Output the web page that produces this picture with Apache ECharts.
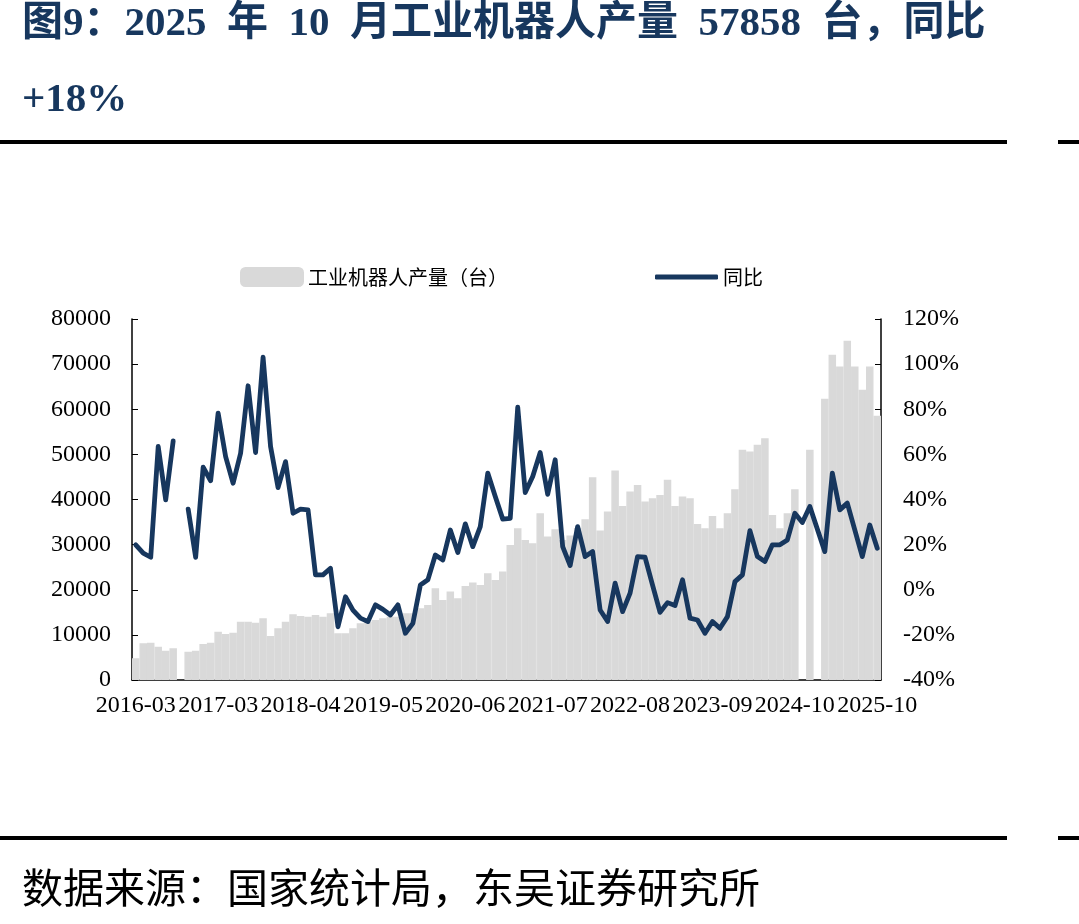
<!DOCTYPE html>
<html>
<head>
<meta charset="utf-8">
<script src="https://cdn.jsdelivr.net/npm/echarts@6/dist/echarts.min.js"></script>
<style>
  html, body { margin: 0; padding: 0; background: #fff; }
  #chart { width: 1079px; height: 924px; }
</style>
</head>
<body>
<div id="chart"></div>
<script>
// months as they appear in the source sheet (Jan/Feb mostly merged away)
const months = [
  '2016-03', '2016-04', '2016-05', '2016-06', '2016-07', '2016-08', '2016-09', '2016-10', '2016-11', '2016-12',
  '2017-02', '2017-03', '2017-04', '2017-05', '2017-06', '2017-07', '2017-08', '2017-09', '2017-10', '2017-11', '2017-12',
  '2018-03', '2018-04', '2018-05', '2018-06', '2018-07', '2018-08', '2018-09', '2018-10', '2018-11', '2018-12',
  '2019-03', '2019-04', '2019-05', '2019-06', '2019-07', '2019-08', '2019-09', '2019-10', '2019-11', '2019-12',
  '2020-03', '2020-04', '2020-05', '2020-06', '2020-07', '2020-08', '2020-09', '2020-10', '2020-11', '2020-12',
  '2021-03', '2021-04', '2021-05', '2021-06', '2021-07', '2021-08', '2021-09', '2021-10', '2021-11', '2021-12',
  '2022-03', '2022-04', '2022-05', '2022-06', '2022-07', '2022-08', '2022-09', '2022-10', '2022-11', '2022-12',
  '2023-03', '2023-04', '2023-05', '2023-06', '2023-07', '2023-08', '2023-09', '2023-10', '2023-11', '2023-12',
  '2024-03', '2024-04', '2024-05', '2024-06', '2024-07', '2024-08', '2024-09', '2024-10', '2024-11', '2024-12',
  '2025-02', '2025-03', '2025-04', '2025-05', '2025-06', '2025-07', '2025-08', '2025-09', '2025-10'
];

// 工业机器人产量（台）
const output = [
  4800, 8140, 8270, 7390, 6500, 7020, null, 6280, 6500, 7980,
  8270, 10710, 10200, 10490, 12930, 12930, 12710, 13670, 9760, 11460, 12930,
  14560, 14190, 14040, 14410, 14000, 14800, 10350, 10350, 11460, 12570,
  12930, 13300, 13670, 14040, 14040, 14780, 14780, 15890, 16630, 20330,
  17740, 19590, 18110, 20840, 21580, 21060, 23650, 22170, 24020, 29930,
  33630, 31040, 30300, 36960, 31780, 33400, 31000, 32000, 33700, 35630,
  44940, 33110, 37320, 46410, 38580, 41760, 43240, 39540, 40280, 41020,
  44350, 38580, 40650, 40280, 34590, 33630, 36360, 33630, 36960, 42280,
  51000, 50620, 52110, 53590, 36590, 33630, 36960, 42280, null, 51000,
  null, 62310, 72060, 69470, 75170, 69470, 64300, 69470, 58540
];

// 同比 (%)
const yoy = [
  19.9, 16.2, 14.4, 63.5, 39.8, 66.0, null, 35.7, 14.4, 54.3,
  48.3, 78.3, 59.0, 47.2, 60.5, 90.4, 60.8, 103.1, 63.5, 45.3, 56.8,
  33.9, 35.7, 35.4, 6.6, 6.6, 9.5, -16.4, -3.1, -9.0, -12.6,
  -14.1, -6.7, -8.7, -11.2, -6.7, -19.3, -14.9, 2.1, 4.4, 15.4,
  13.2, 26.5, 16.5, 29.2, 19.1, 28.0, 51.7, 41.3, 31.3, 31.6,
  80.9, 43.1, 50.2, 60.8, 42.3, 57.6, 19.1, 10.7, 28.0, 14.7,
  16.9, -9.0, -14.1, 2.9, -9.7, -1.5, 14.7, 14.4, 2.1, -10.0,
  -5.7, -7.0, 4.4, -12.6, -13.4, -19.3, -14.1, -17.1, -11.9, 3.6,
  6.6, 26.2, 14.7, 12.5, 19.9, 19.9, 22.1, 33.9, 29.8, 36.9,
  null, 16.9, 51.7, 35.4, 38.4, 26.5, 14.7, 28.7, 18.4
];

// months the yoy line is drawn straight across
const lineSkip = ['2025-02'];

const leftTicks = [0, 10000, 20000, 30000, 40000, 50000, 60000, 70000, 80000];
const rightTicks = [-40, -20, 0, 20, 40, 60, 80, 100, 120];

const navy = '#17375e';
const grey = '#d9d9d9';
const serif = '"Liberation Serif", "Times New Roman", serif';
const cjk = '"Noto Sans CJK SC", sans-serif';

const barData = output.map(v => (v == null ? '-' : v));
const lineData = months
  .map((m, i) => [i, yoy[i] == null ? '-' : yoy[i]])
  .filter((d, i) => lineSkip.indexOf(months[i]) < 0);

const chart = echarts.init(document.getElementById('chart'), null, { renderer: 'canvas' });

const option = {
  backgroundColor: '#fff',
  animation: false,
  grid: { left: 132, right: 198, top: 319, bottom: 244 },
  legend: [
    {
      data: [{ name: '工业机器人产量（台）', icon: 'roundRect' }],
      left: 240, top: 267, padding: 0,
      itemWidth: 62, itemHeight: 18,
      textStyle: { fontFamily: cjk, fontSize: 20, color: '#000' }
    },
    {
      data: [{ name: '同比', icon: 'roundRect' }],
      left: 655, top: 267, padding: 0,
      itemWidth: 63, itemHeight: 5,
      textStyle: { fontFamily: cjk, fontSize: 20, color: '#000' }
    }
  ],
  xAxis: {
    type: 'category',
    data: months,
    boundaryGap: true,
    axisLine: { lineStyle: { color: '#000', width: 1.5 } },
    axisTick: { inside: true, interval: 0, length: 6, lineStyle: { color: '#000', width: 1 } },
    axisLabel: {
      interval: 10,
      margin: 14,
      color: '#000',
      fontFamily: serif,
      fontSize: 24
    },
    splitLine: { show: false }
  },
  yAxis: [
    {
      type: 'value',
      min: leftTicks[0],
      max: leftTicks[leftTicks.length - 1],
      interval: leftTicks[1] - leftTicks[0],
      axisLine: { show: true, lineStyle: { color: '#000', width: 1.5 } },
      axisTick: { show: true, inside: true, length: 6, lineStyle: { color: '#000' } },
      axisLabel: {
        margin: 21, color: '#000', fontFamily: serif, fontSize: 24,
        formatter: v => String(v)
      },
      splitLine: { show: false }
    },
    {
      type: 'value',
      min: rightTicks[0],
      max: rightTicks[rightTicks.length - 1],
      interval: rightTicks[1] - rightTicks[0],
      axisLine: { show: true, lineStyle: { color: '#000', width: 1.5 } },
      axisTick: { show: true, inside: true, length: 6, lineStyle: { color: '#000' } },
      axisLabel: { margin: 22, color: '#000', fontFamily: serif, fontSize: 24, formatter: '{value}%' },
      splitLine: { show: false }
    }
  ],
  series: [
    {
      name: '工业机器人产量（台）',
      type: 'bar',
      data: barData,
      barCategoryGap: '0%',
      // border in the fill colour hides the anti-aliasing seams between bars
      itemStyle: { color: grey, borderColor: grey, borderWidth: 1.4 }
    },
    {
      name: '同比',
      type: 'line',
      yAxisIndex: 1,
      data: lineData,
      symbol: 'none',
      connectNulls: false,
      itemStyle: { color: navy },
      lineStyle: { color: navy, width: 4.8, join: 'round', cap: 'round' }
    }
  ],
  graphic: [
    {
      type: 'text', left: 22, top: 4,
      style: {
        text: '图9：2025  年  10  月工业机器人产量  57858  台，同比',
        font: 'bold 41px "Liberation Serif", ' + cjk,
        fill: navy
      }
    },
    {
      type: 'text', left: 22, top: 80,
      style: { text: '+18%', font: 'bold 41px ' + serif, fill: navy }
    },
    { type: 'rect', left: 0, top: 140, shape: { width: 1007, height: 4 }, style: { fill: '#000' } },
    { type: 'rect', left: 1058, top: 140, shape: { width: 21, height: 4 }, style: { fill: '#000' } },
    { type: 'rect', left: 0, top: 836, shape: { width: 1007, height: 4 }, style: { fill: '#000' } },
    { type: 'rect', left: 1058, top: 836, shape: { width: 21, height: 4 }, style: { fill: '#000' } },
    {
      type: 'text', left: 22, top: 867,
      style: { text: '数据来源：国家统计局，东吴证券研究所', font: '41px ' + cjk, fill: '#000' }
    }
  ]
};

chart.setOption(option);
window.addEventListener('resize', function () {
  chart.resize();
});
</script>
</body>
</html>
